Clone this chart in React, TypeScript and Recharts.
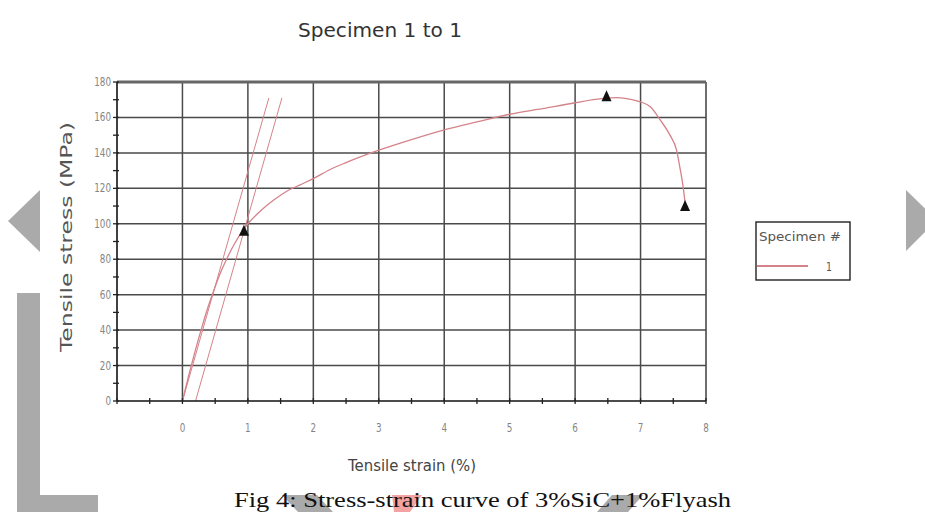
import React from 'react'
import {
  ComposedChart,
  Line,
  Scatter,
  XAxis,
  YAxis,
  ReferenceLine,
} from 'recharts'

// Specimen 1 stress-strain record
const strainPct = [
  0, 0.1, 0.2, 0.3, 0.4, 0.5, 0.6, 0.7, 0.8, 0.9, 1.0, 1.2, 1.4, 1.6, 1.8, 2.0,
  2.25, 2.5, 3.0, 3.5, 4.0, 4.5, 5.0, 5.5, 6.0, 6.4, 6.65, 6.85, 7.0, 7.15, 7.3,
  7.45, 7.55, 7.6, 7.65, 7.68,
]
const stressMPa = [
  0, 15, 29, 42, 54, 64.5, 74, 82, 89, 95, 100, 107.5, 113.5, 118.5, 122, 125.5,
  130.5, 134.5, 141.5, 147.5, 153, 157.5, 161.8, 165, 168.3, 170.6, 171.2, 170.2,
  168.8, 166, 158.6, 150, 141.6, 132, 121, 112,
]

// modulus line and 0.2% offset line
const modulusStrain = [0, 1.32]
const modulusStress = [0, 171]
const offsetStrain = [0.2, 1.52]
const offsetStress = [0, 171]

// yield, peak and break markers
const markerStrain = [0.94, 6.48, 7.68]
const markerStress = [96, 172, 110]

const xTicks = [
  -1, -0.5, 0, 0.5, 1, 1.5, 2, 2.5, 3, 3.5, 4, 4.5, 5, 5.5, 6, 6.5, 7, 7.5, 8,
]
const xLabels = [0, 1, 2, 3, 4, 5, 6, 7, 8]
const yTicks = [
  0, 10, 20, 30, 40, 50, 60, 70, 80, 90, 100, 110, 120, 130, 140, 150, 160, 170, 180,
]
const yLabels = [0, 20, 40, 60, 80, 100, 120, 140, 160, 180]
const xGrid = [0, 1, 2, 3, 4, 5, 6, 7]
const yGrid = [20, 40, 60, 80, 100, 120, 140, 160]

const pair = (xs: number[], ys: number[]) => xs.map((x, i) => ({ x, y: ys[i] }))

const curve = pair(strainPct, stressMPa)
const modulus = pair(modulusStrain, modulusStress)
const offset = pair(offsetStrain, offsetStress)
const markers = pair(markerStrain, markerStress)

const CURVE = '#d4838a'
const GRID = '#4a4a4a'
const LABEL = '#858585'
const sans = "'DejaVu Sans', sans-serif"

const XTick = (props: any) => {
  const { x, y, payload } = props
  const v = payload.value
  return (
    <g>
      <line x1={x} x2={x} y1={y - 3} y2={y + 3} stroke="#222" strokeWidth={1.3} />
      {xLabels.includes(v) && (
        <text
          x={0}
          y={0}
          transform={`translate(${x},${y + 31}) scale(0.8,1.1)`}
          textAnchor="middle"
          fontSize={11}
          fill={LABEL}
          fontFamily={sans}
        >
          {v}
        </text>
      )}
    </g>
  )
}

const YTick = (props: any) => {
  const { x, y, payload } = props
  const v = payload.value
  return (
    <g>
      <line x1={x - 4} x2={x + 2} y1={y} y2={y} stroke="#222" strokeWidth={1.3} />
      {yLabels.includes(v) && (
        <text
          x={0}
          y={0}
          transform={`translate(${x - 6},${y + 4}) scale(0.8,1.1)`}
          textAnchor="end"
          fontSize={11}
          fill={LABEL}
          fontFamily={sans}
        >
          {v}
        </text>
      )}
    </g>
  )
}

const Triangle = (props: any) => {
  const { cx, cy } = props
  return (
    <polygon
      points={`${cx},${cy - 6} ${cx - 5},${cy + 5} ${cx + 5},${cy + 5}`}
      fill="#111"
    />
  )
}

export default function App() {
  return (
    <div style={{ position: 'fixed', left: 0, top: 0, width: 925, height: 512, background: '#fff', overflow: 'hidden' }}>
      <ComposedChart
        width={925}
        height={512}
        margin={{ top: 82, right: 219, bottom: 81, left: 57 }}
      >
        <XAxis
          type="number"
          dataKey="x"
          domain={[-1, 8]}
          ticks={xTicks}
          interval={0}
          tickSize={0}
          tickMargin={0}
          tickLine={false}
          tick={<XTick />}
          axisLine={{ stroke: '#111', strokeWidth: 1.6 }}
          height={30}
          allowDataOverflow
        />
        <YAxis
          type="number"
          dataKey="y"
          domain={[0, 180]}
          ticks={yTicks}
          interval={0}
          tickSize={0}
          tickMargin={0}
          tickLine={false}
          tick={<YTick />}
          axisLine={{ stroke: '#111', strokeWidth: 1.6 }}
          width={60}
          allowDataOverflow
        />
        {xGrid.map((v) => (
          <ReferenceLine key={`gx${v}`} x={v} stroke={GRID} strokeWidth={1.5} />
        ))}
        {yGrid.map((v) => (
          <ReferenceLine key={`gy${v}`} y={v} stroke={GRID} strokeWidth={1.5} />
        ))}
        <ReferenceLine x={8} stroke={GRID} strokeWidth={1.6} />
        <ReferenceLine y={180} stroke="#666" strokeWidth={3} />
        <Line
          data={modulus}
          dataKey="y"
          type="linear"
          stroke={CURVE}
          strokeWidth={1}
          dot={false}
          isAnimationActive={false}
        />
        <Line
          data={offset}
          dataKey="y"
          type="linear"
          stroke={CURVE}
          strokeWidth={1}
          dot={false}
          isAnimationActive={false}
        />
        <Line
          data={curve}
          dataKey="y"
          type="monotone"
          stroke={CURVE}
          strokeWidth={1.3}
          dot={false}
          isAnimationActive={false}
        />
        <Scatter data={markers} dataKey="y" shape={<Triangle />} isAnimationActive={false} />
      </ComposedChart>

      <svg
        width={925}
        height={512}
        style={{ position: 'absolute', left: 0, top: 0, pointerEvents: 'none' }}
      >
        <text x={380} y={37} textAnchor="middle" fontSize={20} fill="#333" fontFamily={sans} textLength={164} lengthAdjust="spacingAndGlyphs">
          Specimen 1 to 1
        </text>
        <text x={412} y={471} textAnchor="middle" fontSize={16} fill="#444" fontFamily={sans} textLength={128} lengthAdjust="spacingAndGlyphs">
          Tensile strain (%)
        </text>
        <text
          x={0}
          y={0}
          transform="translate(72,237) rotate(-90)"
          textAnchor="middle"
          fontSize={15}
          fill="#555"
          fontFamily={sans}
          textLength={230}
          lengthAdjust="spacingAndGlyphs"
        >
          Tensile stress (MPa)
        </text>

        {/* legend */}
        <rect x={756} y={222} width={94} height={58} fill="#fff" stroke="#222" strokeWidth={1.4} />
        <text x={759} y={241} fontSize={12} fill="#555" fontFamily={sans} textLength={82} lengthAdjust="spacingAndGlyphs">
          Specimen #
        </text>
        <line x1={757} x2={808} y1={266} y2={266} stroke={CURVE} strokeWidth={2} />
        <text x={0} y={0} transform="translate(826,271) scale(0.85,1.1)" fontSize={11} fill="#555" fontFamily={sans}>
          1
        </text>

        {/* page navigation arrows */}
        <polygon points="8,221 40,190 40,252" fill="#aaa" />
        <polygon points="17,293 40,293 40,495 98,495 98,512 17,512" fill="#aaa" />
        <polygon points="906,190 906,251 937,220" fill="#aaa" />

        {/* caption */}
        <polygon points="282,495 317,495 333,512 298,512" fill="#aaa" />
        <polygon points="392,495 422,495 410,512 394,512" fill="#f4a3a3" />
        <polygon points="612,495 643,495 628,512 597,512" fill="#aaa" />
        <text x={234} y={507} fontSize={21} fill="#111" fontFamily="'Liberation Serif', 'Times New Roman', serif" textLength={497} lengthAdjust="spacingAndGlyphs">
          Fig 4: Stress-strain curve of 3%SiC+1%Flyash
        </text>
      </svg>
    </div>
  )
}
